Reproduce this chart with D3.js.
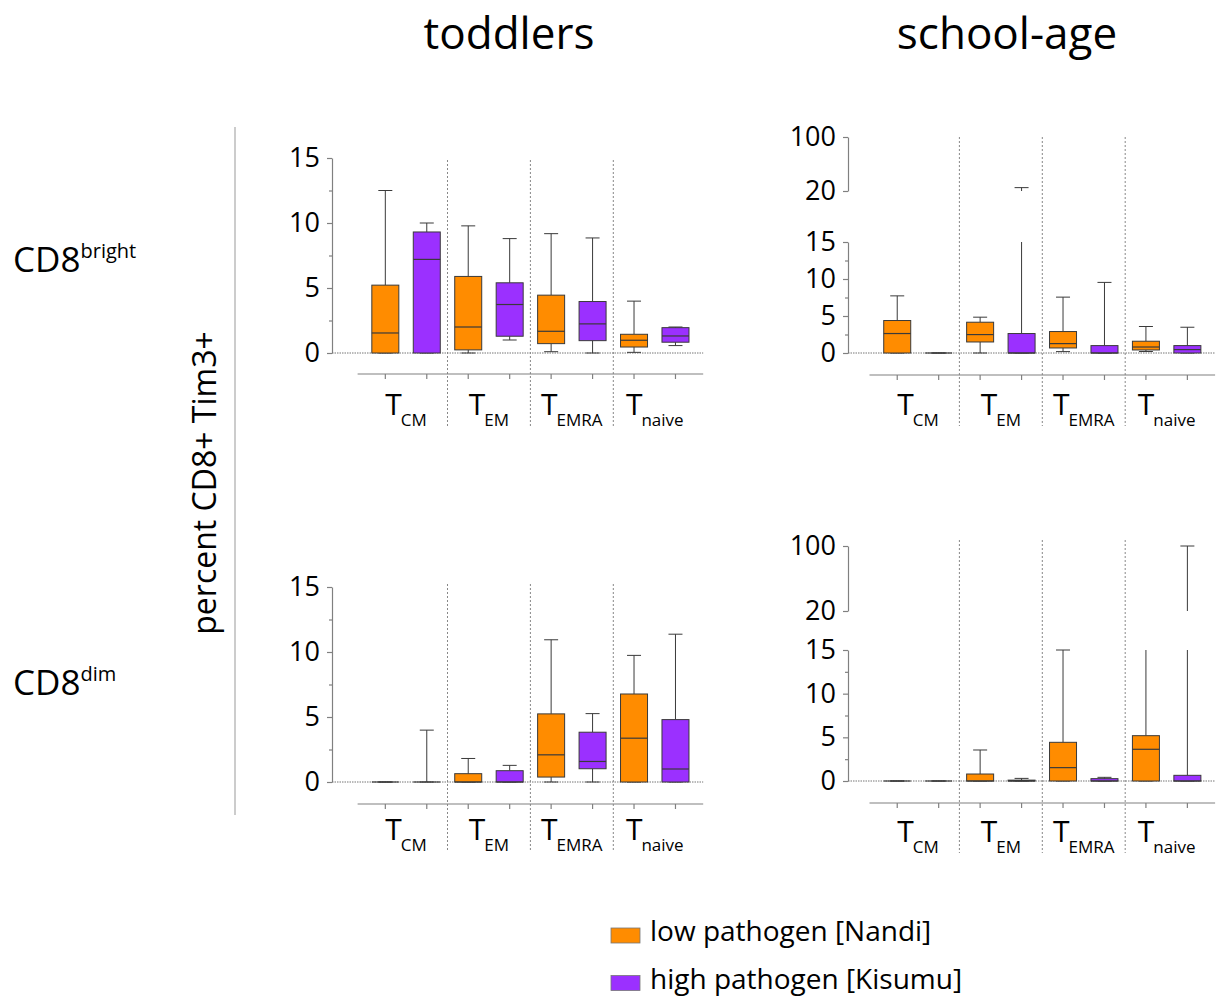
<!DOCTYPE html>
<html>
<head>
<meta charset="utf-8">
<script src="https://cdnjs.cloudflare.com/ajax/libs/d3/7.8.5/d3.min.js"></script>
<style>
  body { margin: 0; background: #fff; }
  svg text { font-family: "Open Sans", "Noto Sans", sans-serif; fill: #000; }
  .axis path, .axis line { stroke: #808080; stroke-width: 1.2; }
  .axis text { font-size: 27px; fill: #000; }
</style>
</head>
<body>
<svg id="chart" width="1217" height="998"></svg>
<script>
// categories
var groups = ["CM", "EM", "EMRA", "naive"];
var seriesNames = ["low pathogen [Nandi]", "high pathogen [Kisumu]"];
var seriesColors = ["#ff8c00", "#9b30ff"];
var ageTitles = ["toddlers", "school-age"];
var subsetLabels = ["bright", "dim"];
var majorTicks = [0, 5, 10, 15];
var minorTicks = [2.5, 7.5, 12.5];
var breakTicks = [20, 100];

// box values per group: [min, q1, median, q3, max]
var toddlersBrightLow  = [[0, 0, 1.54, 5.22, 12.5], [0, 0.24, 2.0, 5.89, 9.78], [0.1, 0.72, 1.67, 4.45, 9.18], [0.05, 0.46, 0.98, 1.44, 3.99]];
var toddlersBrightHigh = [[0, 0, 7.2, 9.31, 10.0], [1.0, 1.29, 3.73, 5.4, 8.8], [0, 0.95, 2.24, 3.96, 8.85], [0.57, 0.83, 1.31, 1.95, 2.0]];
var toddlersDimLow     = [[0, 0, 0, 0, 0], [0, 0, 0, 0.64, 1.81], [0, 0.38, 2.09, 5.24, 10.94], [0, 0, 3.37, 6.77, 9.74]];
var toddlersDimHigh    = [[0, 0, 0, 0, 3.99], [0, 0, 0, 0.87, 1.28], [0, 1.02, 1.58, 3.83, 5.26], [0, 0, 1.0, 4.8, 11.37]];
var schoolBrightLow    = [[0, 0, 2.63, 4.39, 7.72], [0, 1.49, 2.49, 4.16, 4.84], [0.19, 0.68, 1.27, 2.9, 7.55], [0.2, 0.41, 0.81, 1.59, 3.58]];
var schoolBrightHigh   = [[0, 0, 0, 0, 0], [0, 0, 0, 2.63, 25], [0, 0, 0, 1.0, 9.54], [0, 0, 0.46, 1.0, 3.48]];
var schoolDimLow       = [[0, 0, 0, 0, 0], [0, 0, 0, 0.8, 3.55], [0, 0, 1.53, 4.43, 15], [0, 0, 3.63, 5.19, 17]];
var schoolDimHigh      = [[0, 0, 0, 0, 0], [0, 0, 0, 0.1, 0.3], [0, 0, 0, 0.27, 0.42], [0, 0, 0, 0.65, 100]];

var panels = [
  {series: [toddlersBrightLow, toddlersBrightHigh], broken: false, ax: 332, y0: 353, y15: 158, catY: 374, sepTop: 160, sepBot: 427, labY: 415, gx0: 364.6},
  {series: [schoolBrightLow, schoolBrightHigh], broken: true, ax: 848, y0: 353, y15: 242, y20: 191, y100: 137, catY: 375, sepTop: 137, sepBot: 426, labY: 415, gx0: 876.5},
  {series: [toddlersDimLow, toddlersDimHigh], broken: false, ax: 332, y0: 782, y15: 587, catY: 804, sepTop: 584, sepBot: 852, labY: 840, gx0: 364.6},
  {series: [schoolDimLow, schoolDimHigh], broken: true, ax: 848, y0: 781, y15: 650, y20: 611, y100: 546, catY: 803, sepTop: 540, sepBot: 853, labY: 842, gx0: 876.5}
];

var svg = d3.select("#chart");
var groupStep = 82.9, boxW = 27, capW = 14;

panels.forEach(function(p) {
  var g = svg.append("g");
  var y = d3.scaleLinear().domain([0, 15]).range([p.y0, p.y15]);
  var yHi = p.broken ? d3.scaleLinear().domain([20, 100]).range([p.y20, p.y100]) : null;
  var gx = d3.scaleBand().domain(groups).range([p.gx0, p.gx0 + groupStep * groups.length]);
  var sx = d3.scaleBand().domain([0, 1]).range([0, gx.bandwidth()]);
  var cx = function(gi, si) { return gx(groups[gi]) + sx(si) + sx.bandwidth() / 2; };
  var right = gx.range()[1] + 7;

  // y axis
  g.append("g").attr("class", "axis").attr("transform", "translate(" + p.ax + ",0)")
    .call(d3.axisLeft(y).tickValues(majorTicks).tickSize(5).tickSizeOuter(0).tickPadding(6));
  g.append("g").attr("class", "axis").attr("transform", "translate(" + p.ax + ",0)")
    .call(d3.axisLeft(y).tickValues(minorTicks).tickSize(3).tickSizeOuter(0).tickFormat(""))
    .select(".domain").remove();
  if (p.broken) {
    g.append("g").attr("class", "axis").attr("transform", "translate(" + p.ax + ",0)")
      .call(d3.axisLeft(yHi).tickValues(breakTicks).tickSize(5).tickSizeOuter(0).tickPadding(6));
  }
  g.selectAll(".axis .tick text").attr("x", -12);

  // zero line
  g.append("line").attr("x1", p.ax).attr("x2", right).attr("y1", y(0)).attr("y2", y(0))
    .attr("stroke", "#777").attr("stroke-width", 1).attr("stroke-dasharray", "1.5,1");

  // separators
  g.selectAll(".sep").data(groups.slice(1)).enter().append("line")
    .attr("x1", function(d) { return gx(d); }).attr("x2", function(d) { return gx(d); })
    .attr("y1", p.sepTop).attr("y2", p.sepBot)
    .attr("stroke", "#888").attr("stroke-width", 1).attr("stroke-dasharray", "2,2");

  // category axis
  g.append("line").attr("x1", gx.range()[0] - 7).attr("x2", right).attr("y1", p.catY).attr("y2", p.catY)
    .attr("stroke", "#808080").attr("stroke-width", 1.2);
  var tickPos = [];
  groups.forEach(function(d, gi) { [0, 1].forEach(function(si) { tickPos.push(cx(gi, si)); }); });
  g.selectAll(".ctick").data(tickPos).enter().append("line")
    .attr("x1", function(d) { return d; }).attr("x2", function(d) { return d; })
    .attr("y1", p.catY).attr("y2", p.catY + 5)
    .attr("stroke", "#808080").attr("stroke-width", 1.2);
  var lab = g.selectAll(".clab").data(groups).enter().append("text")
    .attr("x", function(d) { return gx(d) + gx.bandwidth() / 2; }).attr("y", p.labY)
    .attr("text-anchor", "middle");
  lab.append("tspan").style("font-size", "30px").text("T");
  lab.append("tspan").style("font-size", "17px").attr("dx", -1).attr("dy", 11).text(function(d) { return d; });

  // boxes
  p.series.forEach(function(data, si) {
    data.forEach(function(v, gi) {
      var x = cx(gi, si), min = v[0], q1 = v[1], med = v[2], q3 = v[3], max = v[4];
      var w = g.append("g").attr("stroke", "#3a3a3a").attr("stroke-width", 1);
      // lower whisker
      w.append("line").attr("x1", x).attr("x2", x).attr("y1", y(q1)).attr("y2", y(min));
      w.append("line").attr("x1", x - capW / 2).attr("x2", x + capW / 2).attr("y1", y(min)).attr("y2", y(min));
      // upper whisker (clipped at the axis break)
      var top = Math.min(max, 15);
      w.append("line").attr("x1", x).attr("x2", x).attr("y1", y(q3)).attr("y2", y(top));
      if (max <= 15) {
        w.append("line").attr("x1", x - capW / 2).attr("x2", x + capW / 2).attr("y1", y(max)).attr("y2", y(max));
      }
      if (p.broken && max >= 20) {
        w.append("line").attr("x1", x).attr("x2", x).attr("y1", yHi(20)).attr("y2", yHi(max));
        w.append("line").attr("x1", x - capW / 2).attr("x2", x + capW / 2).attr("y1", yHi(max)).attr("y2", yHi(max));
      }
      // box
      g.append("rect").attr("x", x - boxW / 2).attr("width", boxW)
        .attr("y", y(q3)).attr("height", y(q1) - y(q3))
        .attr("fill", seriesColors[si]).attr("stroke", "#3a3a3a").attr("stroke-width", 1);
      g.append("line").attr("x1", x - boxW / 2).attr("x2", x + boxW / 2).attr("y1", y(med)).attr("y2", y(med))
        .attr("stroke", "#3a3a3a").attr("stroke-width", 1.2);
    });
  });
});

// column titles
svg.selectAll(".title").data(ageTitles).enter().append("text")
  .attr("x", function(d, i) { return [509, 1007][i]; }).attr("y", 49)
  .attr("text-anchor", "middle").style("font-size", "44px").text(function(d) { return d; });

// row labels
svg.selectAll(".row").data(subsetLabels).enter().append("text")
  .attr("x", 13).attr("y", function(d, i) { return [272, 695][i]; })
  .style("font-size", "35px")
  .each(function(d) {
    var t = d3.select(this);
    t.append("tspan").text("CD8");
    t.append("tspan").attr("dy", -14).style("font-size", "20px").text(d);
  });

// y title and divider
svg.append("text").attr("transform", "translate(216,483) rotate(-90)")
  .attr("text-anchor", "middle").style("font-size", "32px").text("percent CD8+ Tim3+");
svg.append("line").attr("x1", 235).attr("x2", 235).attr("y1", 127).attr("y2", 815)
  .attr("stroke", "#aaa").attr("stroke-width", 1.2);

// legend
var leg = svg.selectAll(".leg").data(seriesNames).enter().append("g")
  .attr("transform", function(d, i) { return "translate(611," + (928 + i * 47.5) + ")"; });
leg.append("rect").attr("width", 29).attr("height", 15)
  .attr("fill", function(d, i) { return seriesColors[i]; }).attr("stroke", "#777").attr("stroke-width", 0.8);
leg.append("text").attr("x", 39).attr("y", 13).style("font-size", "28px").text(function(d) { return d; });
</script>
</body>
</html>
